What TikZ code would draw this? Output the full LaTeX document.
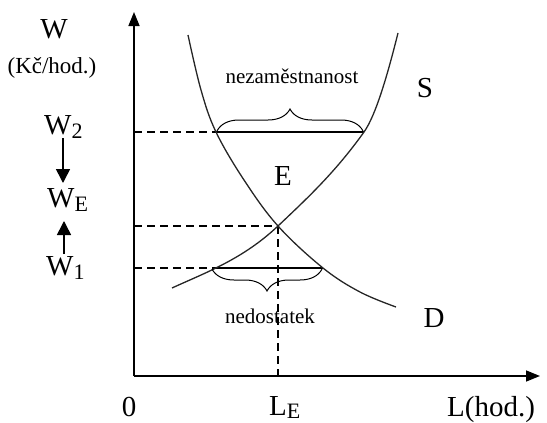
\documentclass[tikz,border=0pt]{standalone}
\usepackage{fontspec}
\setmainfont{Liberation Serif}
\usetikzlibrary{arrows.meta,decorations.pathreplacing}
\newcommand{\bigf}{\fontsize{29}{31}\selectfont}
\newcommand{\subf}{\fontsize{22}{23}\selectfont}
\newcommand{\smallf}{\fontsize{21}{22}\selectfont}
\newcommand{\unitf}{\fontsize{23}{25}\selectfont}
\tikzset{
  axisline/.style={line width=1.5pt,-{Triangle[length=14pt,width=11pt]}},
  curve/.style={line width=1.3pt,black!85},
  guide/.style={line width=1.3pt,dash pattern=on 8pt off 5pt},
  gap/.style={line width=1.5pt},
  bracestyle/.style={line width=1pt,decorate,decoration={brace,amplitude=22pt}},
  shiftarrow/.style={line width=1.6pt,-{Triangle[length=14pt,width=14pt]}},
  lbl/.style={inner sep=0pt,anchor=base,font=\bigf},
  lblw/.style={inner sep=0pt,anchor=base west,font=\bigf},
  small/.style={inner sep=0pt,anchor=base,font=\smallf}
}
\newcommand{\lowsub}[1]{\raisebox{-4pt}{\subf #1}}
\newcommand{\lowsubb}[1]{\raisebox{-3pt}{\subf #1}}
\begin{document}
\begin{tikzpicture}[x=1pt,y=-1pt]
\useasboundingbox (0,0) rectangle (547,423);
% axes
\coordinate (O) at (134,376);
\coordinate (Ytop) at (134,12);
\coordinate (Xend) at (540,376);
\draw[axisline] (O) -- (Ytop);
\draw[axisline] (O) -- (Xend);
% key points
\coordinate (E) at (278,226);
\coordinate (A2) at (216,132);
\coordinate (B2) at (364,132);
\coordinate (A1) at (212,268);
\coordinate (B1) at (323,268);
\coordinate (Y2) at (134,132);
\coordinate (YE) at (134,226);
\coordinate (Y1) at (134,268);
\coordinate (XE) at (278,376);
% dashed guides
\draw[guide] (Y2) -- (A2);
\draw[guide] (YE) -- (E);
\draw[guide] (Y1) -- (A1);
\draw[guide] (E) -- (XE);
% gaps
\draw[gap] (A2) -- (B2);
\draw[gap] (A1) -- (B1);
% demand curve D
\draw[curve] plot[smooth,tension=0.6] coordinates {(188,35) (201,90) (A2) (244,180) (E) (B1) (360,292) (396,307)};
% supply curve S
\draw[curve] (172,288) .. controls (207,272) and (243,259) .. (E)
  .. controls (307,198.5) and (335,172.6) .. (B2)
  .. controls (376,115.2) and (388,73) .. (398,33);
% braces
\draw[bracestyle] (217,131) -- (363,131);
\draw[bracestyle,decoration={mirror}] (212,269) -- (322,269);
% labels
\node[lbl] (lW) at (54,38) {W};
\node[inner sep=0pt,anchor=base,font=\unitf] (lunit) at (52,73) {(Kč/hod.)};
\node[lblw] (lW2) at (44,134) {W\lowsub{2}};
\node[lblw] (lWE) at (47,207) {W\lowsub{E}};
\node[lblw] (lW1) at (46,275) {W\lowsub{1}};
\coordinate (d1) at (63,138);
\coordinate (d2) at (63,183);
\coordinate (u1) at (64,254);
\coordinate (u2) at (64,221);
\draw[shiftarrow] (d1) -- (d2);
\draw[shiftarrow] (u1) -- (u2);
\node[small] (lnez) at (292,83) {nezaměstnanost};
\node[small] (lned) at (270,323) {nedostatek};
\node[lbl] (lS) at (425,97) {S};
\node[lbl] (lE) at (283,185) {E};
\node[lbl] (lD) at (434,327) {D};
\node[lbl] (l0) at (129,416) {0};
\node[lblw] (lLE) at (269,415) {L\lowsubb{E}};
\node[lblw] (lL) at (447,416) {L(hod.)};
\end{tikzpicture}
\end{document}
